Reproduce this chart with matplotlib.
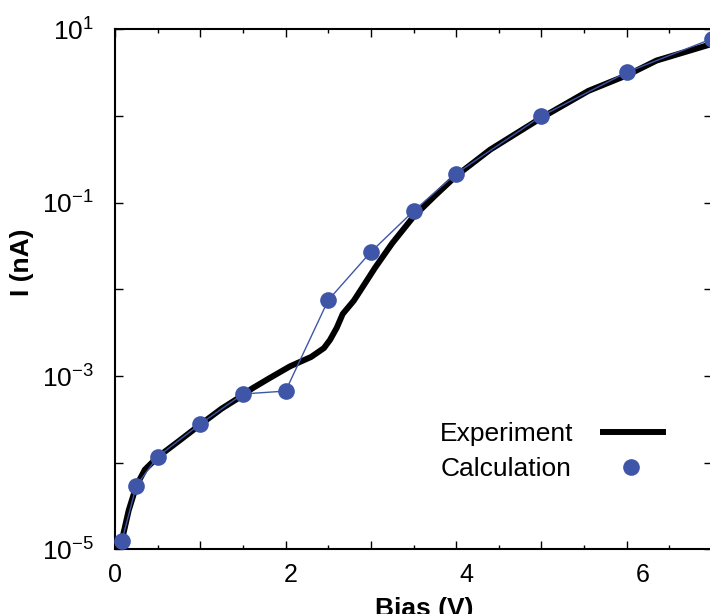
import matplotlib
matplotlib.use("Agg")
import matplotlib.pyplot as plt
from matplotlib.lines import Line2D
from matplotlib.ticker import FixedLocator, MultipleLocator, NullLocator, FuncFormatter
from matplotlib.transforms import ScaledTranslation

plt.rcParams['font.family'] = ['Liberation Sans', 'DejaVu Sans']
plt.rcParams['mathtext.fontset'] = 'custom'
plt.rcParams['mathtext.rm'] = 'Liberation Sans'
plt.rcParams['mathtext.it'] = 'Liberation Sans:italic'
plt.rcParams['mathtext.bf'] = 'Liberation Sans:bold'

# measured I-V curve
exp_bias = [0.03, 0.08, 0.16, 0.25, 0.35, 0.5, 0.75, 1.0, 1.25, 1.5, 1.6, 1.8,
            2.05, 2.3, 2.45, 2.52, 2.6, 2.67, 2.8, 2.9, 3.05, 3.25, 3.5, 3.75,
            4.0, 4.4, 5.0, 5.55, 6.0, 6.35, 7.0]
exp_current = [1.0e-5, 1.26e-5, 2.8e-5, 5.4e-5, 8.3e-5, 1.16e-4, 1.78e-4, 2.75e-4,
               4.2e-4, 6.0e-4, 7.1e-4, 9.3e-4, 1.29e-3, 1.66e-3, 2.1e-3, 2.6e-3,
               3.6e-3, 5.2e-3, 7.4e-3, 1.05e-2, 1.78e-2, 3.4e-2, 6.9e-2, 0.12,
               0.204, 0.41, 0.955, 1.95, 2.95, 4.37, 6.8]

# calculated points
calc_bias = [0.08, 0.25, 0.5, 1.0, 1.5, 2.0, 2.5, 3.0, 3.5, 4.0, 5.0, 6.0, 7.0]
calc_current = [1.25e-5, 5.4e-5, 1.17e-4, 2.8e-4, 6.2e-4, 6.7e-4, 7.5e-3,
                2.7e-2, 8.0e-2, 0.217, 1.0, 3.2, 7.8]

x_labels = [0, 2, 4, 6]
blue = '#3F56A8'

fig = plt.figure(figsize=(7.10, 6.14), dpi=100)
ax = fig.add_axes([115 / 710, 1 - 549.3 / 614, 597 / 710, 519.9 / 614])

ax.plot(exp_bias, exp_current, color='black', lw=4.3, solid_capstyle='butt', zorder=2)
ax.plot(calc_bias, calc_current, color=blue, lw=1.0, marker='o', ms=12,
        markeredgewidth=0, zorder=3, clip_on=False)

ax.set_yscale('log')
ax.set_xlim(0, 7)
ax.set_ylim(1e-5, 10)

ax.xaxis.set_major_locator(MultipleLocator(1))
ax.xaxis.set_minor_locator(MultipleLocator(0.5))
ax.xaxis.set_major_formatter(FuncFormatter(lambda v, p: f"{int(round(v))}" if int(round(v)) in x_labels else ""))

ax.yaxis.set_major_locator(FixedLocator([1e-5, 1e-4, 1e-3, 1e-2, 1e-1, 1, 10]))
ax.yaxis.set_minor_locator(NullLocator())
ax.set_yticklabels([r"$\mathregular{10^{-5}}$", "", r"$\mathregular{10^{-3}}$", "",
                    r"$\mathregular{10^{-1}}$", "", r"$\mathregular{10^{1}}$"])

ax.tick_params(which='both', direction='in', top=True, right=True, width=1.0, labelsize=18)
ax.tick_params(axis='y', labelsize=19)
ax.tick_params(which='major', length=5.5)
ax.tick_params(which='minor', length=3.2)
ax.tick_params(axis='x', pad=10)
ax.tick_params(axis='y', pad=15)
for s in ax.spines.values():
    s.set_linewidth(1.5)

ax.set_xlabel('Bias (V)', fontsize=19, fontweight='bold')
ax.xaxis.set_label_coords(0.518, -0.092)
ax.xaxis.label.set_va('top')
ax.set_ylabel('I (nA)', fontsize=19, fontweight='bold')
ax.yaxis.set_label_coords(-0.136, 0.553)

handles = [Line2D([], [], color='black', lw=4.3, solid_capstyle='butt'),
           Line2D([], [], color=blue, marker='o', ms=12, lw=0, markeredgewidth=0)]
leg = ax.legend(handles, ['Experiment', 'Calculation'], loc='center',
                bbox_to_anchor=(0.734, 0.188), frameon=False, markerfirst=False,
                fontsize=19, handlelength=2.5, handletextpad=1.0, labelspacing=0.42)
# gnuplot style key: labels flush left
leg._legend_handle_box.get_children()[0].align = 'left'

fig.canvas.draw()
# the printed tick numbers sit a little to the right of their ticks
for tick in ax.xaxis.get_major_ticks():
    v = tick.get_loc()
    off = ScaledTranslation(0.026 * v, 0, fig.dpi_scale_trans)
    tick.label1.set_transform(tick.label1.get_transform() + off)

fig.savefig('out.png', dpi=100)
